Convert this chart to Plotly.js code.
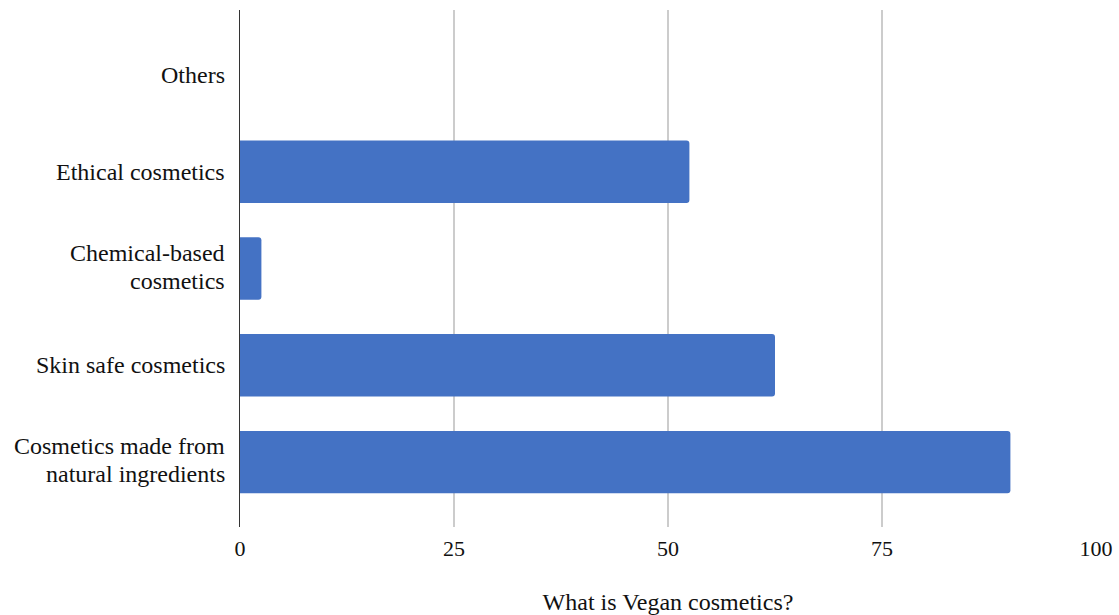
<!DOCTYPE html>
<html>
<head>
<meta charset="utf-8">
<script src="https://cdn.plot.ly/plotly-3.0.1.min.js"></script>
<style>
  html, body { margin: 0; padding: 0; background: #ffffff; }
  #chart { width: 1119px; height: 615px; }
</style>
</head>
<body>
<div id="chart"></div>
<script>
// Survey answers, listed bottom to top as they appear on the axis
const categories = [
  "Cosmetics made from natural ingredients",
  "Skin safe cosmetics",
  "Chemical-based cosmetics",
  "Ethical cosmetics",
  "Others"
];
// Category labels broken into the lines shown beside the axis
const labelLines = [
  ["Cosmetics made from", "natural ingredients"],
  ["Skin safe cosmetics"],
  ["Chemical-based", "cosmetics"],
  ["Ethical cosmetics"],
  ["Others"]
];
const values = [90, 62.5, 2.5, 52.5, 0];
const xTicks = [0, 25, 50, 75, 100];
const xTitle = "What is Vegan cosmetics?";

const FONT = "'Liberation Serif', 'Times New Roman', serif";
const LINE_GAP = 28;

const trace = {
  type: "bar",
  orientation: "h",
  y: categories,
  x: values,
  marker: { color: "#4472C4", cornerradius: 3 },
  hoverinfo: "x+y"
};

// Category labels as stacked annotation lines beside the value axis
const annotations = [];
categories.forEach((cat, i) => {
  const lines = labelLines[i];
  const n = lines.length;
  lines.forEach((line, j) => {
    annotations.push({
      xref: "paper", yref: "y",
      x: 0, y: cat,
      xanchor: "right", yanchor: "middle",
      xshift: -13,
      yshift: ((n - 1) / 2 - j) * LINE_GAP + (n > 1 ? 2 : 0),
      text: line,
      showarrow: false,
      font: { family: FONT, size: 24, color: "#111111" }
    });
  });
});

const layout = {
  width: 1119,
  height: 615,
  margin: { l: 240, r: 23, t: 10, b: 88 },
  paper_bgcolor: "#ffffff",
  plot_bgcolor: "#ffffff",
  showlegend: false,
  bargap: 0.355,
  font: { family: FONT, color: "#111111" },
  xaxis: {
    range: [0, 100],
    tickvals: xTicks,
    ticktext: xTicks.map(String),
    showgrid: true,
    gridcolor: "#cccccc",
    gridwidth: 1.5,
    zeroline: false,
    showline: false,
    ticks: "",
    ticklabelstandoff: 6,
    tickfont: { family: FONT, size: 22, color: "#111111" },
    title: {
      text: xTitle,
      font: { family: FONT, size: 24, color: "#111111" },
      standoff: 34
    },
    automargin: false,
    fixedrange: true
  },
  yaxis: {
    type: "category",
    categoryorder: "array",
    categoryarray: categories,
    range: [-0.67, 4.67],
    showgrid: false,
    zeroline: false,
    showline: true,
    linecolor: "#333333",
    linewidth: 1.5,
    showticklabels: false,
    ticks: "",
    automargin: false,
    fixedrange: true
  },
  annotations: annotations
};

Plotly.newPlot("chart", [trace], layout, { displayModeBar: false, staticPlot: true });
</script>
</body>
</html>
